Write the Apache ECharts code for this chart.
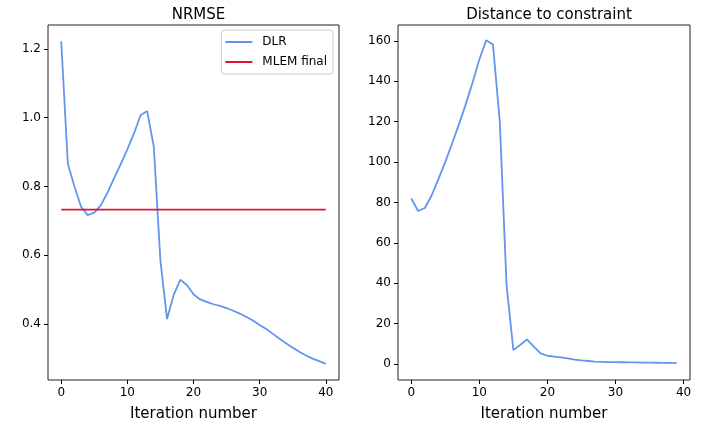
<!DOCTYPE html>
<html>
<head>
<meta charset="utf-8">
<script src="https://cdn.jsdelivr.net/npm/echarts@6/dist/echarts.min.js"></script>
<style>
  html, body { margin: 0; padding: 0; background: #fff; }
  #main { width: 713px; height: 427px; }
</style>
</head>
<body>
<div id="main"></div>
<script>
// NRMSE per iteration (DLR), 0..40
const nrmseDLR = [1.222, 0.866, 0.800, 0.741, 0.717, 0.724, 0.746, 0.782, 0.824, 0.865,
  0.908, 0.954, 1.007, 1.019, 0.915, 0.584, 0.415, 0.485, 0.529, 0.514,
  0.487, 0.472, 0.465, 0.458, 0.453, 0.447, 0.439, 0.431, 0.421, 0.411,
  0.398, 0.386, 0.372, 0.358, 0.345, 0.332, 0.320, 0.309, 0.300, 0.293, 0.285]
const mlemFinal = 0.733
// distance to constraint per iteration, 0..39
const distance = [82.0, 75.8, 77.3, 83.6, 91.7, 100.1, 109.2, 118.7, 128.6, 139.3,
  150.8, 160.3, 158.2, 120.3, 39.1, 6.9, 9.4, 12.2, 8.6, 5.3,
  4.1, 3.7, 3.3, 2.8, 2.2, 1.8, 1.5, 1.2, 1.1, 1.0,
  0.95, 0.9, 0.85, 0.8, 0.75, 0.7, 0.65, 0.6, 0.55, 0.5]

const xTicks = [0, 10, 20, 30, 40]
const nrmseTicks = [0.4, 0.6, 0.8, 1.0, 1.2]
const distTicks = [0, 20, 40, 60, 80, 100, 120, 140, 160]

const FONT = 'DejaVu Sans'
const BLUE = '#6495ED'
const RED = '#DC143C'

var chart = echarts.init(document.getElementById('main'))

function xAxisCfg (idx, min, max) {
  return {
    type: 'value', gridIndex: idx, min: min, max: max,
    name: 'Iteration number', nameLocation: 'middle', nameGap: 27,
    nameTextStyle: { fontFamily: FONT, fontSize: 15, color: '#000' },
    axisLine: { show: false, onZero: false },
    axisTick: { show: true, length: 4, customValues: xTicks, lineStyle: { color: '#000' } },
    axisLabel: { customValues: xTicks, margin: 7, fontFamily: FONT, fontSize: 12, color: '#000' },
    splitLine: { show: false }
  }
}
function yAxisCfg (idx, min, max, ticks, fmt) {
  return {
    type: 'value', gridIndex: idx, min: min, max: max,
    axisLine: { show: false, onZero: false },
    axisTick: { show: true, length: 4, customValues: ticks, lineStyle: { color: '#000' } },
    axisLabel: { customValues: ticks, margin: 7, fontFamily: FONT, fontSize: 12, color: '#000', formatter: fmt },
    splitLine: { show: false }
  }
}

const option = {
  animation: false,
  backgroundColor: '#fff',
  title: [
    { text: 'NRMSE', left: 193.5, top: 3, textAlign: 'center',
      textStyle: { fontFamily: FONT, fontSize: 15, fontWeight: 'normal', color: '#000' } },
    { text: 'Distance to constraint', left: 544, top: 3, textAlign: 'center',
      textStyle: { fontFamily: FONT, fontSize: 15, fontWeight: 'normal', color: '#000' } }
  ],
  grid: [
    { left: 48, top: 25, width: 291, height: 355, show: true, borderColor: '#222', borderWidth: 1, backgroundColor: 'transparent' },
    { left: 398, top: 25, width: 292, height: 355, show: true, borderColor: '#222', borderWidth: 1, backgroundColor: 'transparent' }
  ],
  legend: {
    data: ['DLR', 'MLEM final'],
    orient: 'vertical', align: 'left',
    right: 380, top: 30,
    icon: 'rect', itemWidth: 27, itemHeight: 2, itemGap: 8,
    padding: [6, 6, 6, 4],
    backgroundColor: '#fff', borderColor: '#ccc', borderWidth: 1, borderRadius: 3,
    textStyle: { fontFamily: FONT, fontSize: 12, color: '#000', padding: [0, 0, 0, 5] }
  },
  xAxis: [xAxisCfg(0, -2, 42), xAxisCfg(1, -1.95, 40.95)],
  yAxis: [
    yAxisCfg(0, 0.238, 1.269, nrmseTicks, v => v.toFixed(1)),
    yAxisCfg(1, -7.9, 167.9, distTicks, v => String(v))
  ],
  series: [
    { name: 'DLR', type: 'line', xAxisIndex: 0, yAxisIndex: 0, showSymbol: false,
      lineStyle: { color: BLUE, width: 1.8 }, itemStyle: { color: BLUE },
      data: nrmseDLR.map((v, i) => [i, v]) },
    { name: 'MLEM final', type: 'line', xAxisIndex: 0, yAxisIndex: 0, showSymbol: false,
      lineStyle: { color: RED, width: 1.8 }, itemStyle: { color: RED },
      data: [[0, mlemFinal], [nrmseDLR.length - 1, mlemFinal]] },
    { name: 'distance', type: 'line', xAxisIndex: 1, yAxisIndex: 1, showSymbol: false,
      lineStyle: { color: BLUE, width: 1.8 }, itemStyle: { color: BLUE },
      data: distance.map((v, i) => [i, v]) }
  ]
}
chart.setOption(option)
</script>
</body>
</html>
